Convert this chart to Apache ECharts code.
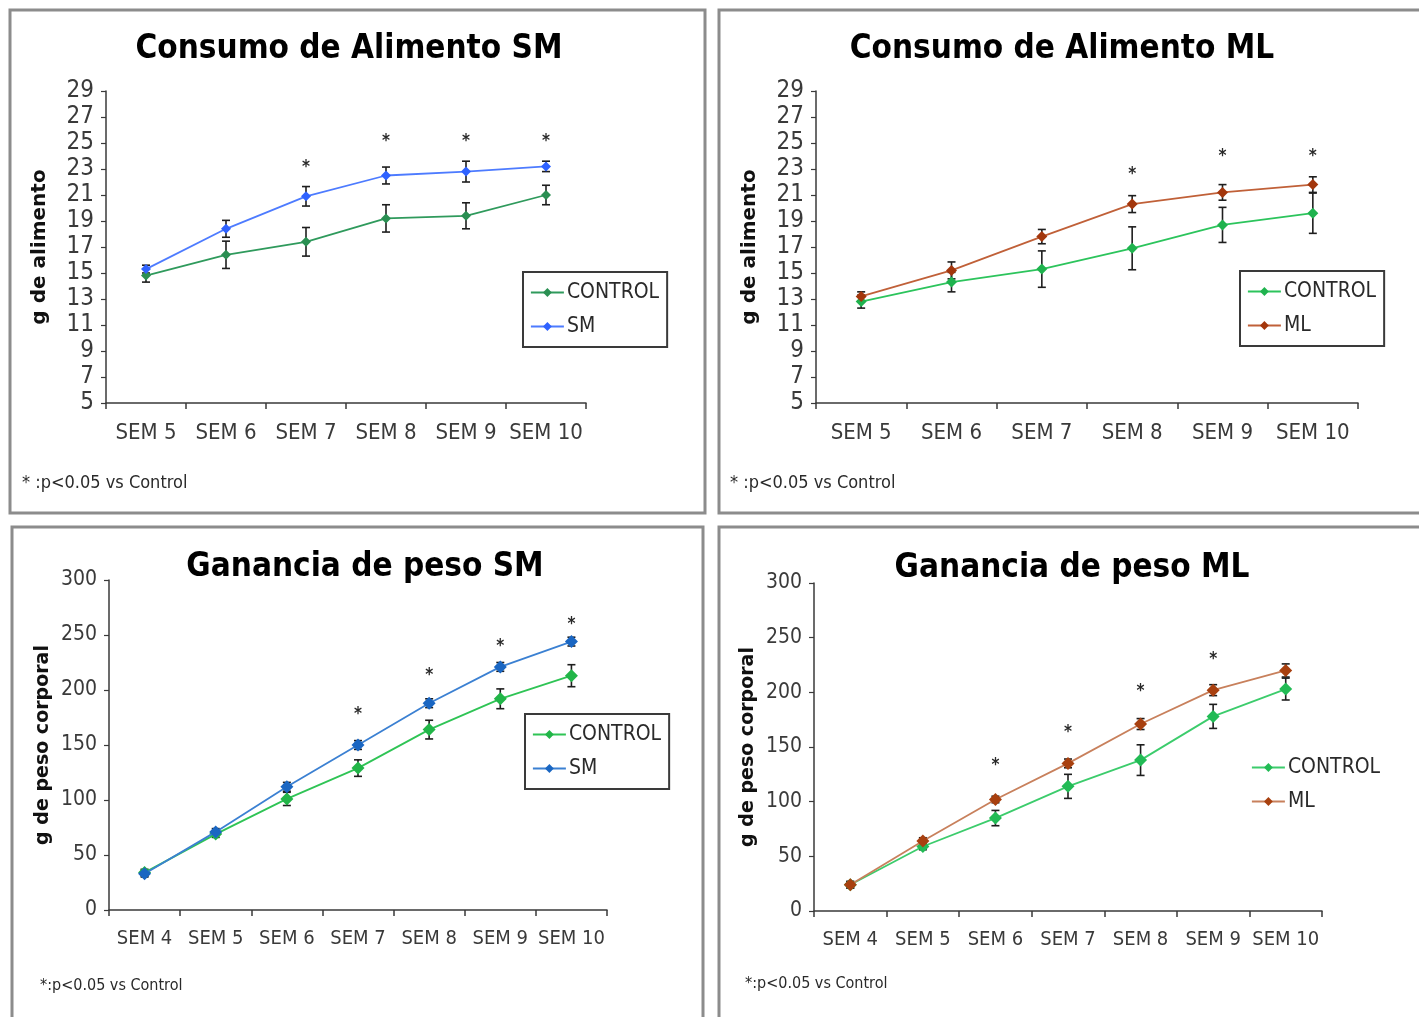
<!DOCTYPE html>
<html>
<head>
<meta charset="utf-8">
<script src="https://cdn.jsdelivr.net/npm/echarts@6/dist/echarts.min.js"></script>
<style>
  html, body { margin: 0; padding: 0; background: #ffffff; }
  #chart { width: 1419px; height: 1017px; }
</style>
</head>
<body>
<div id="chart"></div>
<script>
// Week labels
const weeksFood = ['SEM 5', 'SEM 6', 'SEM 7', 'SEM 8', 'SEM 9', 'SEM 10'];
const weeksWeight = ['SEM 4', 'SEM 5', 'SEM 6', 'SEM 7', 'SEM 8', 'SEM 9', 'SEM 10'];

// Food intake (g), SM study
const foodSmControl    = [14.8, 16.4, 17.4, 19.2, 19.4, 21.0];
const foodSmControlErr = [0.5, 1.05, 1.1, 1.05, 1.0, 0.75];
const foodSm           = [15.3, 18.4, 20.9, 22.5, 22.8, 23.2];
const foodSmErr        = [0.3, 0.65, 0.75, 0.65, 0.8, 0.4];
const foodSmStars      = [null, null, 23.4, 25.4, 25.4, 25.4];

// Food intake (g), ML study
const foodMlControl    = [12.8, 14.3, 15.3, 16.9, 18.7, 19.6];
const foodMlControlErr = [0.5, 0.75, 1.4, 1.65, 1.35, 1.55];
const foodMl           = [13.2, 15.2, 17.8, 20.3, 21.2, 21.8];
const foodMlErr        = [0.35, 0.65, 0.55, 0.65, 0.6, 0.6];
const foodMlStars      = [null, null, null, 22.9, 24.3, 24.3];

// Body weight gain (g), SM study
const gainSmControl    = [34, 69, 101, 129, 164, 192, 213];
const gainSmControlErr = [3, 3, 6, 7.5, 8.5, 9, 10];
const gainSm           = [33, 71, 112, 150, 188, 221, 244];
const gainSmErr        = [3, 3, 4, 4, 4, 4, 4];
const gainSmStars      = [null, null, null, 181, 217, 243, 263];

// Body weight gain (g), ML study
const gainMlControl    = [24, 59, 85, 114, 138, 178, 203];
const gainMlControlErr = [3, 3, 7, 11, 14, 11, 10];
const gainMl           = [24, 64, 102, 135, 171, 202, 220];
const gainMlErr        = [3, 3, 3, 4, 5, 5, 6];
const gainMlStars      = [null, null, 137, 167, 204, 234, null];

const NARROW = '"Liberation Sans Narrow", "DejaVu Sans Condensed", "Arial Narrow", sans-serif';
const BOLDY = '"DejaVu Sans", "Liberation Sans", sans-serif';

const panels = [
  {
    title: 'Consumo de Alimento SM', titleX: 349, titleY: 33,
    grid: { left: 106, top: 91, width: 480, height: 312 },
    cats: weeksFood, min: 5, max: 29, step: 2,
    yName: 'g de alimento', nameGap: 56, nameSize: 20,
    ctrl: foodSmControl, ctrlErr: foodSmControlErr,
    trt: foodSm, trtErr: foodSmErr, trtName: 'SM', stars: foodSmStars,
    ctrlColor: '#2f9a5c', ctrlMarker: '#2a8f52',
    trtColor: '#4d7bff', trtMarker: '#2f62ff',
    symbolSize: 10, labelSize: 24, xLabelSize: 22, legend: { left: 523, top: 272, border: true },
    note: '* :p<0.05 vs Control', noteX: 22, noteY: 484, noteSize: 18
  },
  {
    title: 'Consumo de Alimento ML', titleX: 1062, titleY: 33,
    grid: { left: 816, top: 91, width: 542, height: 312 },
    cats: weeksFood, min: 5, max: 29, step: 2,
    yName: 'g de alimento', nameGap: 56, nameSize: 20,
    ctrl: foodMlControl, ctrlErr: foodMlControlErr,
    trt: foodMl, trtErr: foodMlErr, trtName: 'ML', stars: foodMlStars,
    ctrlColor: '#2cc45c', ctrlMarker: '#1fb34e',
    trtColor: '#c06038', trtMarker: '#a3360c',
    symbolSize: 11, labelSize: 24, xLabelSize: 22, legend: { left: 1240, top: 271, border: true },
    note: '* :p<0.05 vs Control', noteX: 730, noteY: 484, noteSize: 18
  },
  {
    title: 'Ganancia de peso SM', titleX: 365, titleY: 551,
    grid: { left: 109, top: 580, width: 498, height: 330 },
    cats: weeksWeight, min: 0, max: 300, step: 50,
    yName: 'g de peso corporal', nameGap: 56, nameSize: 19,
    ctrl: gainSmControl, ctrlErr: gainSmControlErr,
    trt: gainSm, trtErr: gainSmErr, trtName: 'SM', stars: gainSmStars,
    ctrlColor: '#2fc455', ctrlMarker: '#22b548',
    trtColor: '#3b80d2', trtMarker: '#1a66c2',
    symbolSize: 13, labelSize: 21, xLabelSize: 20, legend: { left: 525, top: 714, border: true },
    note: '*:p<0.05 vs Control', noteX: 40, noteY: 987, noteSize: 16
  },
  {
    title: 'Ganancia de peso ML', titleX: 1072, titleY: 552,
    grid: { left: 814, top: 583, width: 508, height: 328 },
    cats: weeksWeight, min: 0, max: 300, step: 50,
    yName: 'g de peso corporal', nameGap: 56, nameSize: 19,
    ctrl: gainMlControl, ctrlErr: gainMlControlErr,
    trt: gainMl, trtErr: gainMlErr, trtName: 'ML', stars: gainMlStars,
    ctrlColor: '#3ccc6c', ctrlMarker: '#22bb55',
    trtColor: '#c8805c', trtMarker: '#a8400f',
    symbolSize: 13, labelSize: 21, xLabelSize: 20, legend: { left: 1244, top: 747, border: false },
    note: '*:p<0.05 vs Control', noteX: 745, noteY: 985, noteSize: 16
  }
];

// Vertical error bar with caps, one per category
function errorSeries(idx, means, errs) {
  return {
    type: 'custom', xAxisIndex: idx, yAxisIndex: idx, silent: true, z: 2,
    data: means.map((m, i) => [i, m - errs[i], m + errs[i]]),
    encode: { x: 0, y: [1, 2] },
    renderItem(params, api) {
      const lo = api.coord([api.value(0), api.value(1)]);
      const hi = api.coord([api.value(0), api.value(2)]);
      const w = 4;
      const st = { stroke: '#1e1e1e', lineWidth: 1.6 };
      return {
        type: 'group',
        children: [
          { type: 'line', shape: { x1: lo[0], y1: lo[1], x2: hi[0], y2: hi[1] }, style: st },
          { type: 'line', shape: { x1: lo[0] - w, y1: lo[1], x2: lo[0] + w, y2: lo[1] }, style: st },
          { type: 'line', shape: { x1: hi[0] - w, y1: hi[1], x2: hi[0] + w, y2: hi[1] }, style: st }
        ]
      };
    }
  };
}

// Significance asterisks
function starSeries(idx, stars) {
  const pts = [];
  stars.forEach((v, i) => { if (v != null) pts.push([i, v]); });
  return {
    type: 'custom', xAxisIndex: idx, yAxisIndex: idx, silent: true, z: 6,
    data: pts,
    encode: { x: 0, y: 1 },
    renderItem(params, api) {
      const p = api.coord([api.value(0), api.value(1)]);
      return {
        type: 'text', x: p[0], y: p[1] + 4,
        style: { text: '*', fontSize: 17, fontFamily: NARROW, fontWeight: 'bold', fill: '#2a2a2a', align: 'center', verticalAlign: 'middle' }
      };
    }
  };
}

const option = {
  backgroundColor: '#ffffff',
  animation: false,
  title: [], grid: [], xAxis: [], yAxis: [], series: [], legend: [],
  graphic: []
};

panels.forEach((p, idx) => {
  option.title.push({
    text: p.title, left: p.titleX, top: p.titleY, textAlign: 'center', padding: 0,
    textStyle: { fontFamily: NARROW, fontWeight: 'bold', fontSize: 33, color: '#000000' }
  });
  option.grid.push(Object.assign({ containLabel: false }, p.grid));
  option.xAxis.push({
    type: 'category', gridIndex: idx, data: p.cats, boundaryGap: true,
    axisLine: { lineStyle: { color: '#3a3a3a', width: 1.5 } },
    axisTick: { show: true, length: 6, lineStyle: { color: '#3a3a3a', width: 1.5 } },
    axisLabel: { fontFamily: NARROW, fontSize: p.xLabelSize, color: '#3a3a3a', margin: 19, interval: 0 }
  });
  option.yAxis.push({
    type: 'value', gridIndex: idx, min: p.min, max: p.max, interval: p.step,
    name: p.yName, nameLocation: 'middle', nameRotate: 90, nameGap: p.nameGap,
    nameTextStyle: { fontFamily: BOLDY, fontWeight: 'bold', fontSize: p.nameSize, color: '#111111' },
    splitLine: { show: false },
    axisLine: { show: true, lineStyle: { color: '#3a3a3a', width: 1.5 } },
    axisTick: { show: true, length: 5, lineStyle: { color: '#3a3a3a', width: 1.2 } },
    axisLabel: { fontFamily: NARROW, fontSize: p.labelSize, color: '#3a3a3a', margin: 12 }
  });
  option.series.push(errorSeries(idx, p.ctrl, p.ctrlErr));
  option.series.push(errorSeries(idx, p.trt, p.trtErr));
  option.series.push({
    type: 'line', name: 'CONTROL', xAxisIndex: idx, yAxisIndex: idx, data: p.ctrl,
    symbol: 'diamond', symbolSize: p.symbolSize, z: 4,
    lineStyle: { color: p.ctrlColor, width: 1.8 }, itemStyle: { color: p.ctrlMarker }
  });
  option.series.push({
    type: 'line', name: p.trtName, xAxisIndex: idx, yAxisIndex: idx, data: p.trt,
    symbol: 'diamond', symbolSize: p.symbolSize, z: 5,
    lineStyle: { color: p.trtColor, width: 1.8 }, itemStyle: { color: p.trtMarker }
  });
  option.series.push(starSeries(idx, p.stars));
  option.legend.push({
    orient: 'vertical', left: p.legend.left, top: p.legend.top,
    padding: [10, 8, 10, 7], itemGap: 13, itemWidth: 33, itemHeight: 11,
    borderColor: p.legend.border ? '#3a3a3a' : 'transparent', borderWidth: p.legend.border ? 2 : 0,
    selectedMode: false,
    textStyle: { fontFamily: NARROW, fontSize: 21, color: '#2a2a2a', padding: [0, 0, 0, -2] },
    data: [
      { name: 'CONTROL', itemStyle: { color: p.ctrlMarker }, lineStyle: { color: p.ctrlColor, width: 1.8 } },
      { name: p.trtName, itemStyle: { color: p.trtMarker }, lineStyle: { color: p.trtColor, width: 1.8 } }
    ]
  });
  option.graphic.push({
    type: 'text', left: p.noteX, top: p.noteY - p.noteSize / 2 - 1, silent: true,
    style: { text: p.note, fontFamily: NARROW, fontSize: p.noteSize, fill: '#2a2a2a' }
  });
});

// Panel frames
const frames = [
  { x: 10, y: 10, w: 695, h: 503 },
  { x: 719, y: 10, w: 710, h: 503 },
  { x: 12, y: 527, w: 691, h: 500 },
  { x: 719, y: 527, w: 710, h: 500 }
];
frames.forEach(f => {
  option.graphic.push({
    type: 'rect', silent: true, z: -10,
    shape: { x: f.x, y: f.y, width: f.w, height: f.h },
    style: { fill: 'none', stroke: '#8c8c8c', lineWidth: 3 }
  });
});

const chart = echarts.init(document.getElementById('chart'), null, { renderer: 'canvas' });
chart.setOption(option);
</script>
</body>
</html>
